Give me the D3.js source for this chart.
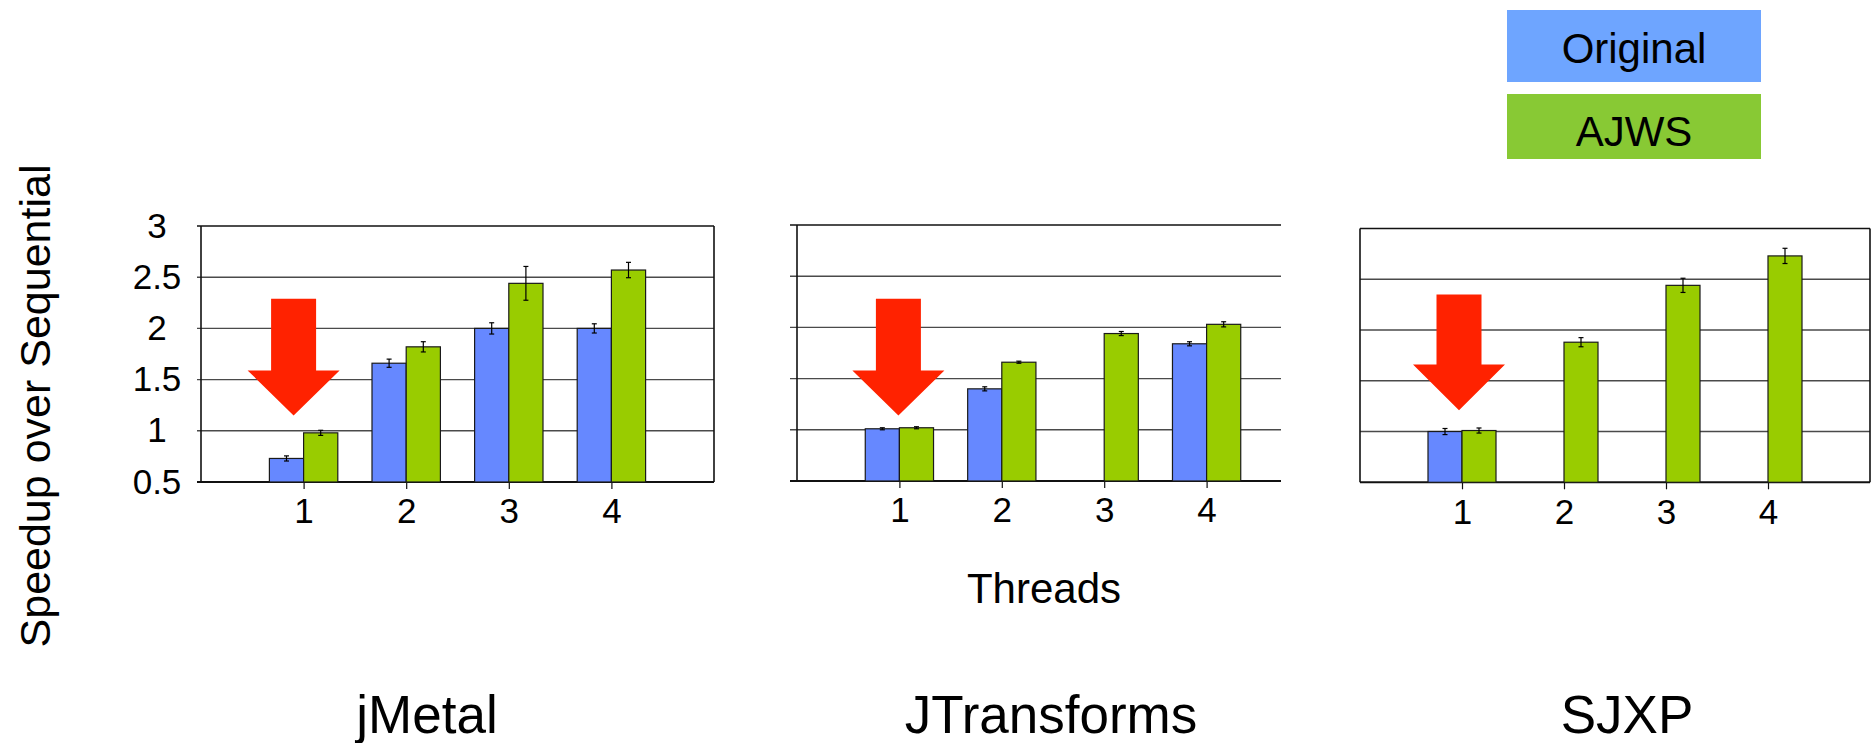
<!DOCTYPE html>
<html>
<head>
<meta charset="utf-8">
<script src="https://cdnjs.cloudflare.com/ajax/libs/d3/7.8.5/d3.min.js"></script>
<style>
    body { margin: 0; background: #ffffff; }
    svg { display: block; font-family: "Liberation Sans", Arial, sans-serif; }
</style>
</head>
<body>
<div id="chart"></div>
<script>
// data
var threads = [1, 2, 3, 4];
var yTicks = [0.5, 1, 1.5, 2, 2.5, 3];
var benchmarks = ["jMetal", "JTransforms", "SJXP"];
var seriesNames = ["Original", "AJWS"];

var jmetalOriginal = [0.73, 1.66, 2.0, 2.0];
var jmetalOriginalErr = [0.025, 0.04, 0.055, 0.045];
var jmetalAjws = [0.98, 1.82, 2.44, 2.57];
var jmetalAjwsErr = [0.025, 0.05, 0.165, 0.075];

var jtransformsOriginal = [1.01, 1.40, null, 1.84];
var jtransformsOriginalErr = [0.01, 0.02, null, 0.02];
var jtransformsAjws = [1.02, 1.66, 1.94, 2.03];
var jtransformsAjwsErr = [0.01, 0.01, 0.02, 0.025];

var sjxpOriginal = [1.0, null, null, null];
var sjxpOriginalErr = [0.03, null, null, null];
var sjxpAjws = [1.01, 1.88, 2.44, 2.73];
var sjxpAjwsErr = [0.025, 0.045, 0.07, 0.075];

var panelData = [
    {orig: jmetalOriginal, origErr: jmetalOriginalErr, ajws: jmetalAjws, ajwsErr: jmetalAjwsErr},
    {orig: jtransformsOriginal, origErr: jtransformsOriginalErr, ajws: jtransformsAjws, ajwsErr: jtransformsAjwsErr},
    {orig: sjxpOriginal, origErr: sjxpOriginalErr, ajws: sjxpAjws, ajwsErr: sjxpAjwsErr}
];

// layout of the three small plots
var panels = [
    {left: 201, right: 714, top: 226, bottom: 482, step: 102.6, labels: true, tick: 4, rightBorder: true, arrowDx: -10, arrow: [2.29, 1.59, 1.15]},
    {left: 797, right: 1281, top: 225, bottom: 481, step: 102.4, labels: false, tick: 7, rightBorder: false, arrowDx: -1, arrow: [2.28, 1.58, 1.14]},
    {left: 1360, right: 1870, top: 228.5, bottom: 482.3, step: 102, labels: false, tick: 0, rightBorder: true, arrowDx: -3, arrow: [2.35, 1.66, 1.21]}
];

var blueBar = "#6688ff";
var greenBar = "#99cc00";
var blueLegend = "#6ea5ff";
var greenLegend = "#88c934";
var arrowColor = "#ff2200";
var gridColor = "#4a4a4a";

var W = 1872, H = 743;

var svg = d3.select("#chart").append("svg")
    .attr("width", W)
    .attr("height", H);

panels.forEach(function (p, i) {
    var d = panelData[i];
    var g = svg.append("g");

    var x = d3.scaleLinear()
        .domain([0, 5])
        .range([p.left, p.left + 5 * p.step]);

    var y = d3.scaleLinear()
        .domain([0.5, 3])
        .range([p.bottom, p.top]);

    var barW = p.step / 3;

    // horizontal grid lines
    g.selectAll(".grid")
        .data(yTicks)
        .enter()
        .append("line")
        .attr("x1", p.left - p.tick)
        .attr("x2", p.right)
        .attr("y1", function (t) { return y(t); })
        .attr("y2", function (t) { return y(t); })
        .attr("stroke", function (t) { return t === 3 || t === 0.5 ? "#111" : gridColor; })
        .attr("stroke-width", function (t) { return t === 0.5 ? 2 : 1.4; });

    // left axis line
    g.append("line")
        .attr("x1", p.left).attr("x2", p.left)
        .attr("y1", y(3)).attr("y2", y(0.5))
        .attr("stroke", "#111")
        .attr("stroke-width", 1.6);

    if (p.rightBorder) {
        g.append("line")
            .attr("x1", p.right).attr("x2", p.right)
            .attr("y1", y(3)).attr("y2", y(0.5))
            .attr("stroke", "#111")
            .attr("stroke-width", 1.6);
    }

    // y tick labels only on the first plot
    if (p.labels) {
        g.selectAll(".ylab")
            .data(yTicks)
            .enter()
            .append("text")
            .attr("x", 157)
            .attr("y", function (t) { return y(t) - 1; })
            .attr("dy", "0.36em")
            .attr("text-anchor", "middle")
            .attr("font-size", 35)
            .text(function (t) { return t; });
    }

    // x axis ticks and labels
    var xAxis = d3.axisBottom(x)
        .tickValues(threads)
        .tickSize(7)
        .tickPadding(9.5)
        .tickFormat(d3.format("d"));

    var gx = g.append("g")
        .attr("transform", "translate(0," + p.bottom + ")")
        .call(xAxis);
    gx.select(".domain").remove();
    gx.selectAll(".tick line").attr("stroke", "#111").attr("stroke-width", 1.2);
    gx.selectAll(".tick text")
        .attr("font-size", 35)
        .attr("font-family", "\"Liberation Sans\", Arial, sans-serif")
        .attr("fill", "#000");

    // bars: Original left of the tick, AJWS right of it
    var bars = [];
    threads.forEach(function (t, k) {
        if (d.orig[k] !== null) bars.push({t: t, v: d.orig[k], e: d.origErr[k], s: 0});
        if (d.ajws[k] !== null) bars.push({t: t, v: d.ajws[k], e: d.ajwsErr[k], s: 1});
    });

    g.selectAll(".bar")
        .data(bars)
        .enter()
        .append("rect")
        .attr("x", function (b) { return b.s === 0 ? x(b.t) - barW : x(b.t); })
        .attr("y", function (b) { return y(b.v); })
        .attr("width", barW)
        .attr("height", function (b) { return y(0.5) - y(b.v); })
        .attr("fill", function (b) { return b.s === 0 ? blueBar : greenBar; })
        .attr("stroke", "#1a1a1a")
        .attr("stroke-width", 1.2);

    // error bars
    var eb = g.selectAll(".err")
        .data(bars)
        .enter()
        .append("g")
        .attr("stroke", "#000")
        .attr("stroke-width", 1.2);

    var cx = function (b) { return b.s === 0 ? x(b.t) - barW / 2 : x(b.t) + barW / 2; };

    eb.append("line")
        .attr("x1", cx).attr("x2", cx)
        .attr("y1", function (b) { return y(b.v + b.e); })
        .attr("y2", function (b) { return y(b.v - b.e); });
    eb.append("line")
        .attr("x1", function (b) { return cx(b) - 2.5; })
        .attr("x2", function (b) { return cx(b) + 2.5; })
        .attr("y1", function (b) { return y(b.v + b.e); })
        .attr("y2", function (b) { return y(b.v + b.e); });
    eb.append("line")
        .attr("x1", function (b) { return cx(b) - 2.5; })
        .attr("x2", function (b) { return cx(b) + 2.5; })
        .attr("y1", function (b) { return y(b.v - b.e); })
        .attr("y2", function (b) { return y(b.v - b.e); });

    // red arrow pointing at the 1-thread bars
    var ax = x(1) + p.arrowDx;
    var aTop = y(p.arrow[0]), aHead = y(p.arrow[1]), aTip = y(p.arrow[2]);
    var shaft = 22.5, head = 46;
    g.append("path")
        .attr("d", "M" + (ax - shaft) + "," + aTop +
            "L" + (ax + shaft) + "," + aTop +
            "L" + (ax + shaft) + "," + aHead +
            "L" + (ax + head) + "," + aHead +
            "L" + ax + "," + aTip +
            "L" + (ax - head) + "," + aHead +
            "L" + (ax - shaft) + "," + aHead + "Z")
        .attr("fill", arrowColor);

    // benchmark name below each plot
    svg.append("text")
        .attr("x", [427, 1051, 1627][i])
        .attr("y", 733)
        .attr("text-anchor", "middle")
        .attr("font-size", 53)
        .text(benchmarks[i]);
});

// axis titles
svg.append("text")
    .attr("x", 1044)
    .attr("y", 603)
    .attr("text-anchor", "middle")
    .attr("font-size", 42)
    .text("Threads");

svg.append("text")
    .attr("transform", "translate(50,406) rotate(-90)")
    .attr("text-anchor", "middle")
    .attr("font-size", 43)
    .text("Speedup over Sequential");

// legend boxes top right
var legendColors = [blueLegend, greenLegend];
var leg = svg.selectAll(".legend")
    .data(seriesNames)
    .enter()
    .append("g")
    .attr("transform", function (s, i) { return "translate(1507," + [10, 94][i] + ")"; });

leg.append("rect")
    .attr("width", 254)
    .attr("height", function (s, i) { return [72, 65][i]; })
    .attr("fill", function (s, i) { return legendColors[i]; });

leg.append("text")
    .attr("x", 127)
    .attr("y", function (s, i) { return [53, 52][i]; })
    .attr("text-anchor", "middle")
    .attr("font-size", 42)
    .text(function (s) { return s; });
</script>
</body>
</html>
